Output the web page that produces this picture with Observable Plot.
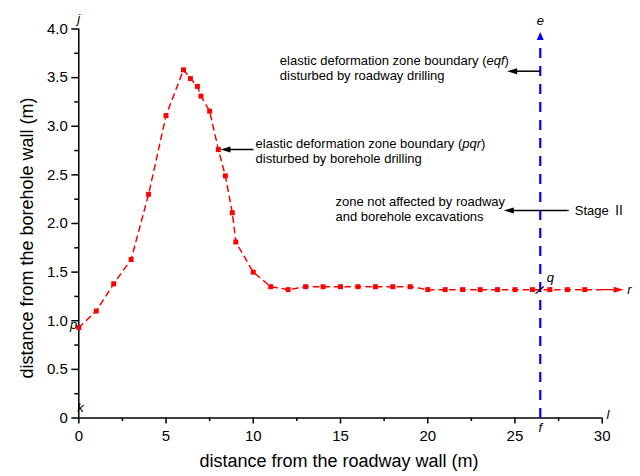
<!DOCTYPE html>
<html><head><meta charset="utf-8">
<script src="https://cdn.jsdelivr.net/npm/d3@7"></script>
<script src="https://cdn.jsdelivr.net/npm/@observablehq/plot@0.6"></script>
<style>
body{margin:0;background:#fff;}
svg{font-family:"Liberation Sans",Arial,sans-serif;}
</style></head><body><div id="chart"></div>
<script>
// ---- data ----
const distRoadway  = [0,1,2,3,4,5,6,6.4,6.8,7,7.5,8,8.4,8.8,9,10,11,12,13,14,15,16,17,18,19,20,21,22,23,24,25,26,27,28,29,30];
const distBorehole = [0.93,1.10,1.38,1.63,2.30,3.11,3.58,3.49,3.41,3.31,3.155,2.76,2.49,2.11,1.81,1.50,1.35,1.32,1.35,1.35,1.35,1.35,1.35,1.35,1.35,1.32,1.32,1.32,1.32,1.32,1.32,1.32,1.32,1.32,1.32,1.32];
const xTicks = [0,5,10,15,20,25,30];
const xMinorTicks = [2.5,7.5,12.5,17.5,22.5,27.5];
const yTicks = [0,0.5,1,1.5,2,2.5,3,3.5,4];
const yTickLabels = ["0","0.5","1.0","1.5","2.0","2.5","3.0","3.5","4.0"];
const yMinorTicks = [0.25,0.75,1.25,1.75,2.25,2.75,3.25,3.75];
const xLabel = "distance from the roadway wall (m)";
const yLabel = "distance from the borehole wall (m)";
const eqfX = 26.45;       // roadway-disturbed boundary e-q-f
const eqfTop = 3.97;
const rArrowEnd = 31.23;  // pqr arrow tip beyond x=30

const notes = [
  {text: "elastic deformation zone boundary (eqf)\ndisturbed by roadway drilling", x: 11.52, y: 3.60, x1: eqfX, x2: 24.55, ay: 3.566},
  {text: "elastic deformation zone boundary (pqr)\ndisturbed by borehole drilling", x: 10.13, y: 2.746, x1: 10.01, x2: 8.12, ay: 2.761},
  {text: "zone not affected by roadway\nand borehole excavations", x: 14.71, y: 2.154, x1: 28.01, x2: 24.36, ay: 2.134}
];
const stageText = {text: "Stage \u2161", x: 28.43, y: 2.134};
const letters = [
  {t: "j", x: 0, y: 4.108, a: "middle"},
  {t: "k", x: 0.1, y: 0.108, a: "start"},
  {t: "p", x: -0.3, y: 0.96, a: "end"},
  {t: "e", x: eqfX, y: 4.087, a: "middle"},
  {t: "f", x: eqfX, y: -0.098, a: "middle"},
  {t: "q", x: 27.03, y: 1.445, a: "middle"},
  {t: "r", x: 31.56, y: 1.32, a: "middle"},
  {t: "l", x: 30.33, y: 0.03, a: "middle"}
];
const qSlash = {x1: 26.18, y1: 1.279, x2: 26.65, y2: 1.352};

// ---- build ----
const data = distRoadway.map((x, i) => ({x, y: distBorehole[i]}));
const headLeft  = {draw(c){ c.moveTo(0,0); c.lineTo(10,-3); c.lineTo(10,3); c.closePath(); }};
const headRight = {draw(c){ c.moveTo(0,0); c.lineTo(-10,-3); c.lineTo(-10,3); c.closePath(); }};
const headUp    = {draw(c){ c.moveTo(0,0); c.lineTo(-3.5,8); c.lineTo(3.5,8); c.closePath(); }};

const chart = Plot.plot({
  width: 640, height: 476,
  marginLeft: 78.3, marginRight: 38.3, marginTop: 28.5, marginBottom: 58.5,
  x: {domain: [0, 30]},
  y: {domain: [0, 4]},
  style: {fontFamily: "Liberation Sans, Arial, sans-serif", color: "black", background: "white"},
  marks: [
    Plot.axisX({ticks: xTicks, tickSize: 6, tickPadding: 6, fontSize: 15, strokeWidth: 1.5, label: null, tickFormat: d => String(d)}),
    Plot.axisX({ticks: xMinorTicks, tickSize: 3.5, strokeWidth: 1.5, label: null, tickFormat: () => ""}),
    Plot.axisY({ticks: yTicks, tickSize: 7, tickPadding: 4, fontSize: 15, strokeWidth: 1.5, label: null, tickFormat: d => yTickLabels[yTicks.indexOf(d)]}),
    Plot.axisY({ticks: yMinorTicks, tickSize: 4, strokeWidth: 1.5, label: null, tickFormat: () => ""}),
    Plot.ruleX([0], {stroke: "black", strokeWidth: 1.5}),
    Plot.ruleY([0], {stroke: "black", strokeWidth: 1.5}),
    // roadway boundary e-q-f
    Plot.link([{x: eqfX}], {x1: "x", x2: "x", y1: 0, y2: eqfTop - 0.06, stroke: "#0000ff", strokeWidth: 2.2, strokeDasharray: "10,8"}),
    Plot.dot([{x: eqfX, y: eqfTop}], {x: "x", y: "y", symbol: headUp, fill: "#0000ff", stroke: "none"}),
    // borehole boundary p-q-r
    Plot.line(data, {x: "x", y: "y", stroke: "#ff0000", strokeWidth: 1.5, strokeDasharray: "5.5,5"}),
    Plot.dot(data.filter(d => d.x < 30), {x: "x", y: "y", symbol: "square", r: 2.8, fill: "#ff0000", stroke: "none"}),
    Plot.link([{x1: 30, x2: rArrowEnd - 0.4, y: 1.32}], {x1: "x1", x2: "x2", y1: "y", y2: "y", stroke: "#ff0000", strokeWidth: 1.3}),
    Plot.dot([{x: rArrowEnd, y: 1.32}], {x: "x", y: "y", symbol: headRight, fill: "#ff0000", stroke: "none"}),
    Plot.link([qSlash], {x1: "x1", y1: "y1", x2: "x2", y2: "y2", stroke: "black", strokeWidth: 1.3}),
    // annotations
    Plot.link(notes, {x1: "x1", x2: d => d.x2 + 0.4, y1: "ay", y2: "ay", stroke: "black", strokeWidth: 1.5}),
    Plot.dot(notes, {x: "x2", y: "ay", symbol: headLeft, fill: "black", stroke: "none"}),
    Plot.link([{x1: stageText.x - 0.35, x2: 28.01, y: stageText.y}], {x1: "x1", x2: "x2", y1: "y", y2: "y", stroke: "black", strokeWidth: 1.5}),
    Plot.text(notes, {x: "x", y: "y", text: "text", textAnchor: "start", lineAnchor: "middle", lineHeight: 1.16, fontSize: 13, fill: "black"}),
    Plot.text([stageText], {x: "x", y: "y", text: "text", textAnchor: "start", fontSize: 13, fill: "black", fontFamily: "Liberation Sans, Noto Sans CJK SC, sans-serif"}),
    Plot.text(letters, {x: "x", y: "y", text: "t", textAnchor: "a", fontSize: 13, fontStyle: "italic", fill: "black"}),
    // axis titles
    Plot.text([xLabel], {text: d => d, frameAnchor: "bottom", textAnchor: "middle", dx: -1.5, dy: 48.5, fontSize: 18, fill: "black"}),
    Plot.text([yLabel], {text: d => d, frameAnchor: "left", textAnchor: "middle", rotate: -90, dx: -51.8, dy: 14.5, fontSize: 18, fill: "black"})
  ]
});

// italic boundary names inside the annotation lines
chart.querySelectorAll("text, tspan").forEach(el => {
  if (el.childNodes.length === 1 && el.firstChild.nodeType === 3) {
    const s = el.firstChild.nodeValue;
    const m = s.match(/\((eqf|pqr)\)/);
    if (m) {
      const i = m.index + 1;
      el.textContent = "";
      el.append(document.createTextNode(s.slice(0, i)));
      const t = document.createElementNS("http://www.w3.org/2000/svg", "tspan");
      t.setAttribute("font-style", "italic");
      t.textContent = m[1];
      el.append(t, document.createTextNode(s.slice(i + m[1].length)));
    }
  }
});
document.getElementById("chart").append(chart);
</script></body></html>
